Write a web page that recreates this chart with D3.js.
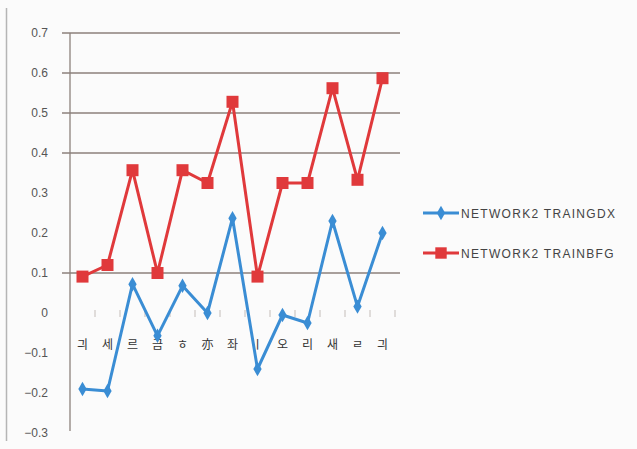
<!DOCTYPE html>
<html>
<head>
<meta charset="utf-8">
<script src="https://cdn.jsdelivr.net/npm/d3@7"></script>
<style>
  body { margin: 0; background: #fbfbfb; }
  svg { display: block; }
</style>
</head>
<body>
<svg width="637" height="449"></svg>
<script>
var categories = ["긔", "세", "르", "금", "ㅎ", "亦", "좌", "ㅣ", "오", "리", "새", "ㄹ", "긔"];
var traingdx = [-0.19, -0.195, 0.072, -0.057, 0.068, 0.0, 0.237, -0.14, -0.005, -0.025, 0.23, 0.016, 0.2];
var trainbfg = [0.091, 0.12, 0.357, 0.1, 0.357, 0.325, 0.528, 0.091, 0.325, 0.325, 0.562, 0.333, 0.587];
var yTicks = [0.7, 0.6, 0.5, 0.4, 0.3, 0.2, 0.1, 0, -0.1, -0.2, -0.3];
var gridValues = [0.7, 0.6, 0.5, 0.4, 0.1];
var seriesNames = ["NETWORK2 TRAINGDX", "NETWORK2 TRAINBFG"];

var svg = d3.select("svg");
var blue = "#3a8dd4", red = "#e0393b", gridColor = "#8c817b";

// page edge
svg.append("line").attr("x1", 6.5).attr("x2", 6.5).attr("y1", 8).attr("y2", 441)
    .attr("stroke", "#b5b5b5").attr("stroke-width", 1.5);

var x = d3.scaleBand().domain(categories.map(function(d, i) { return i; })).range([70, 395]);
var y = d3.scaleLinear().domain([-0.3, 0.7]).range([433, 33]);

// gridlines
svg.append("g").selectAll("line").data(gridValues).enter().append("line")
    .attr("x1", 62).attr("x2", 400)
    .attr("y1", function(d) { return y(d); }).attr("y2", function(d) { return y(d); })
    .attr("stroke", gridColor).attr("stroke-width", 1.3);

// y axis line
svg.append("line").attr("x1", 70).attr("x2", 70).attr("y1", 33).attr("y2", 431)
    .attr("stroke", gridColor).attr("stroke-width", 1.3);

// y labels
svg.append("g").selectAll("text").data(yTicks).enter().append("text")
    .attr("x", 48).attr("y", function(d) { return y(d) + 4; })
    .attr("text-anchor", "end")
    .attr("font-family", "Liberation Sans, Arial, sans-serif").attr("font-size", 12)
    .attr("fill", "#555")
    .text(function(d) { return d === 0 ? "0" : d3.format(".1f")(d); });

// x ticks at category boundaries
var bounds = d3.range(categories.length + 1).map(function(i) { return 70 + i * x.bandwidth(); });
svg.append("g").selectAll("line").data(bounds.slice(1)).enter().append("line")
    .attr("x1", function(d) { return d; }).attr("x2", function(d) { return d; })
    .attr("y1", y(0) - 3).attr("y2", y(0) + 4)
    .attr("stroke", "#c4bdb9").attr("stroke-width", 1);

// x labels
svg.append("g").selectAll("text").data(categories).enter().append("text")
    .attr("x", function(d, i) { return x(i) + x.bandwidth() / 2; })
    .attr("y", 349)
    .attr("text-anchor", "middle")
    .attr("font-family", "Noto Sans CJK KR, sans-serif").attr("font-size", 12)
    .attr("fill", "#333")
    .text(function(d) { return d; });

var line = d3.line()
    .x(function(d, i) { return x(i) + x.bandwidth() / 2; })
    .y(function(d) { return y(d); });

// red series
svg.append("path").datum(trainbfg).attr("d", line)
    .attr("fill", "none").attr("stroke", red).attr("stroke-width", 3).attr("stroke-linejoin", "round");
svg.append("g").selectAll("rect").data(trainbfg).enter().append("rect")
    .attr("x", function(d, i) { return x(i) + x.bandwidth() / 2 - 6; })
    .attr("y", function(d) { return y(d) - 6; })
    .attr("width", 12).attr("height", 12).attr("fill", red);

// blue series
svg.append("path").datum(traingdx).attr("d", line)
    .attr("fill", "none").attr("stroke", blue).attr("stroke-width", 3).attr("stroke-linejoin", "round");
var diamond = d3.symbol().type(d3.symbolDiamond).size(60);
svg.append("g").selectAll("path").data(traingdx).enter().append("path")
    .attr("d", diamond)
    .attr("transform", function(d, i) { return "translate(" + (x(i) + x.bandwidth() / 2) + "," + y(d) + ")"; })
    .attr("fill", blue);

// legend
var legend = svg.append("g").selectAll("g").data(seriesNames).enter().append("g")
    .attr("transform", function(d, i) { return "translate(423," + (213 + i * 40) + ")"; });
legend.append("line").attr("x1", 0).attr("x2", 36).attr("y1", 0).attr("y2", 0)
    .attr("stroke", function(d, i) { return i ? red : blue; }).attr("stroke-width", 3);
legend.append("path")
    .attr("d", function(d, i) { return i ? d3.symbol().type(d3.symbolSquare).size(130)() : diamond(); })
    .attr("transform", "translate(18,0)")
    .attr("fill", function(d, i) { return i ? red : blue; });
legend.append("text").attr("x", 38).attr("y", 4.5)
    .attr("font-family", "Liberation Sans, Arial, sans-serif").attr("font-size", 12)
    .attr("letter-spacing", 1.3)
    .attr("fill", "#444")
    .text(function(d) { return d; });
</script>
</body>
</html>
